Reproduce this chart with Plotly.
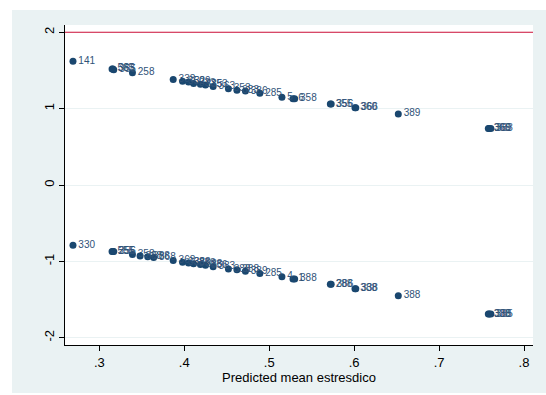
import plotly.graph_objects as go

# Predicted probabilities and deviance residuals, split by observed outcome
p_pos = [0.269, 0.315, 0.316, 0.317, 0.339, 0.387, 0.398, 0.405, 0.411, 0.419,
         0.425, 0.434, 0.452, 0.462, 0.472, 0.489, 0.515, 0.528, 0.530,
         0.572, 0.573, 0.601, 0.602, 0.652, 0.758, 0.759, 0.761]
r_pos = [1.62, 1.52, 1.52, 1.51, 1.47, 1.38, 1.36, 1.35, 1.33, 1.32,
         1.31, 1.29, 1.26, 1.24, 1.23, 1.20, 1.15, 1.13, 1.13,
         1.06, 1.06, 1.01, 1.01, 0.93, 0.74, 0.74, 0.74]
id_pos = ["141", "565", "383", "355", "258", "338", "350", "329", "333", "335",
          "353", "363", "353", "383", "386", "285", "5", "6", "358",
          "355", "356", "360", "366", "389", "368", "369", "383"]

p_neg = [0.269, 0.315, 0.316, 0.317, 0.339, 0.348, 0.357, 0.364, 0.387, 0.398,
         0.405, 0.411, 0.419, 0.425, 0.434, 0.452, 0.462, 0.472, 0.489, 0.515,
         0.528, 0.530, 0.572, 0.573, 0.601, 0.602, 0.652, 0.758, 0.759, 0.761]
r_neg = [-0.79, -0.87, -0.87, -0.87, -0.91, -0.93, -0.94, -0.95, -0.99, -1.01,
         -1.02, -1.03, -1.04, -1.05, -1.07, -1.10, -1.11, -1.13, -1.16, -1.20,
         -1.23, -1.23, -1.30, -1.30, -1.36, -1.36, -1.45, -1.69, -1.69, -1.69]
id_neg = ["330", "555", "255", "356", "358", "388", "388", "368", "368", "338",
          "388", "358", "388", "356", "383", "388", "388", "389", "285", "4",
          "1", "388", "288", "386", "388", "338", "388", "338", "388", "385"]

x_ticks = [0.3, 0.4, 0.5, 0.6, 0.7, 0.8]
x_ticktext = [".3", ".4", ".5", ".6", ".7", ".8"]
y_ticks = [-2, -1, 0, 1, 2]
y_ticktext = ["-2", "-1", "0", "1", "2"]
ref_level = 2

navy = "#1a476f"
label_col = "#2f5278"
region_bg = "#eaf2f3"
font_family = "Liberation Sans, Arial, sans-serif"

fig = go.Figure()
for px, ry, ids in [(p_pos, r_pos, id_pos), (p_neg, r_neg, id_neg)]:
    fig.add_trace(go.Scatter(
        x=px, y=ry, text=ids, mode="markers+text",
        textposition="middle right",
        textfont=dict(family=font_family, size=10, color=label_col),
        marker=dict(size=7, color=navy, line=dict(width=0)),
        showlegend=False, cliponaxis=False,
    ))

fig.update_layout(
    width=546, height=395,
    margin=dict(l=65, r=13, t=25, b=50),
    paper_bgcolor="white", plot_bgcolor="white",
    font=dict(family=font_family, size=13, color="black"),
    shapes=[
        # graph region background
        dict(type="rect", xref="paper", yref="paper",
             x0=-0.1132, x1=1.03, y0=-0.15, y1=1.047,
             fillcolor=region_bg, line=dict(width=0), layer="below"),
        # white plot region
        dict(type="rect", xref="paper", yref="paper",
             x0=0, x1=1, y0=0, y1=1,
             fillcolor="white", line=dict(width=0), layer="below"),
        # reference line
        dict(type="line", xref="paper", yref="y",
             x0=0, x1=1, y0=ref_level, y1=ref_level,
             line=dict(color="#d0103a", width=1.2)),
    ],
)

fig.update_xaxes(
    range=[0.2596, 0.8106], tickvals=x_ticks, ticktext=x_ticktext,
    showgrid=False, zeroline=False,
    showline=True, linecolor="black", linewidth=1,
    ticks="outside", ticklen=5, tickcolor="black", tickwidth=1,
    tickfont=dict(size=13),
    title=dict(text="Predicted mean estresdico", font=dict(size=13), standoff=2),
)
fig.update_yaxes(
    range=[-2.095, 2.095], tickvals=y_ticks, ticktext=y_ticktext,
    tickangle=-90,
    showgrid=True, gridcolor=region_bg, gridwidth=1, zeroline=False,
    showline=True, linecolor="black", linewidth=1,
    ticks="outside", ticklen=5, tickcolor="black", tickwidth=1,
    tickfont=dict(size=13),
)

fig.write_html("out.html")
